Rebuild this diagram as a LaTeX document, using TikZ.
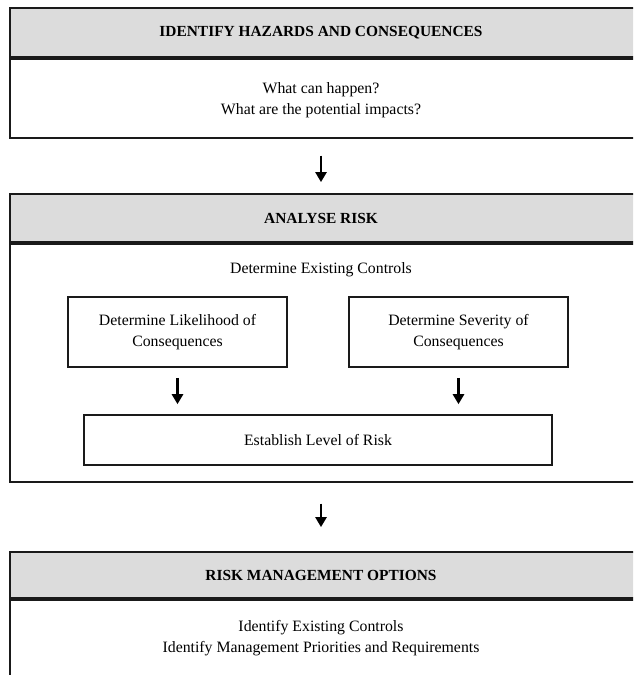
\documentclass[tikz,border=0pt]{standalone}
\usepackage{fontspec}
\setmainfont{Liberation Serif}
\usetikzlibrary{arrows.meta,positioning,calc}
\definecolor{hdrgray}{HTML}{DCDCDC}
\definecolor{linegray}{HTML}{1A1A1A}
\tikzset{
  txtfont/.style={font=\fontsize{15.8}{21}\selectfont},
  hdrfont/.style={font=\fontsize{15.4}{20}\selectfont\bfseries},
  hdr/.style={draw=linegray, line width=1.8pt, fill=hdrgray, rectangle, inner sep=0pt,
    minimum width=626pt},
  bodybox/.style={draw=linegray, line width=1.8pt, fill=white, rectangle, inner sep=0pt,
    minimum width=626pt},
  txt/.style={txtfont, align=center, inner sep=0pt},
  hdrtxt/.style={hdrfont, align=center, inner sep=0pt},
  innerbox/.style={draw=linegray, line width=1.6pt, rectangle, inner sep=0pt, txtfont, align=center},
  arr/.style={line width=2.6pt, -{Triangle[width=11pt,length=10pt]}}
}
\begin{document}
\begin{tikzpicture}[x=1pt,y=-1pt]
\useasboundingbox (0,0) rectangle (633,675);
\clip (0,0) rectangle (633,675);
\fill[white] (0,0) rectangle (633,675);

% Box 1
\node[hdr, minimum height=49pt] (h1) at (323,32.5) {};
\node[hdrtxt] (h1t) at (321,32.5) {IDENTIFY HAZARDS AND CONSEQUENCES};
\node[bodybox, minimum height=79pt, anchor=north] (b1) at (h1.south) {};
\node[txt] (t1) at (321,100) {What can happen?\\What are the potential impacts?};

% Box 2
\node[hdr, minimum height=48pt] (h2) at (323,218) {};
\node[hdrtxt] (h2t) at (321,218) {ANALYSE RISK};
\node[bodybox, minimum height=238pt, anchor=north] (b2) at (h2.south) {};
\node[txt] (dec) at (321,270) {Determine Existing Controls};
\node[innerbox, minimum width=219pt, minimum height=70pt] (lik) at (177.5,332) {Determine Likelihood of\\Consequences};
\node[innerbox, minimum width=219pt, minimum height=70pt] (sev) at (458.5,332) {Determine Severity of\\Consequences};
\node[innerbox, minimum width=468pt, minimum height=50pt] (est) at (318,440) {Establish Level of Risk};

% Box 3
\node[hdr, minimum height=46pt] (h3) at (323,575) {};
\node[hdrtxt] (h3t) at (321,575) {RISK MANAGEMENT OPTIONS};
\node[bodybox, minimum height=112pt, anchor=north] (b3) at (h3.south) {};
\node[txt] (t3) at (321,638) {Identify Existing Controls\\Identify Management Priorities and Requirements};

% Arrows
\draw[arr, shorten <=17pt, shorten >=11pt] (t1 |- b1.south) -- (t1 |- h2.north);
\draw[arr, shorten <=10pt, shorten >=10pt] (lik.south) -- (lik.south |- est.north);
\draw[arr, shorten <=10pt, shorten >=10pt] (sev.south) -- (sev.south |- est.north);
\draw[arr, shorten <=21pt, shorten >=24pt] (t1 |- b2.south) -- (t1 |- h3.north);
\end{tikzpicture}
\end{document}
